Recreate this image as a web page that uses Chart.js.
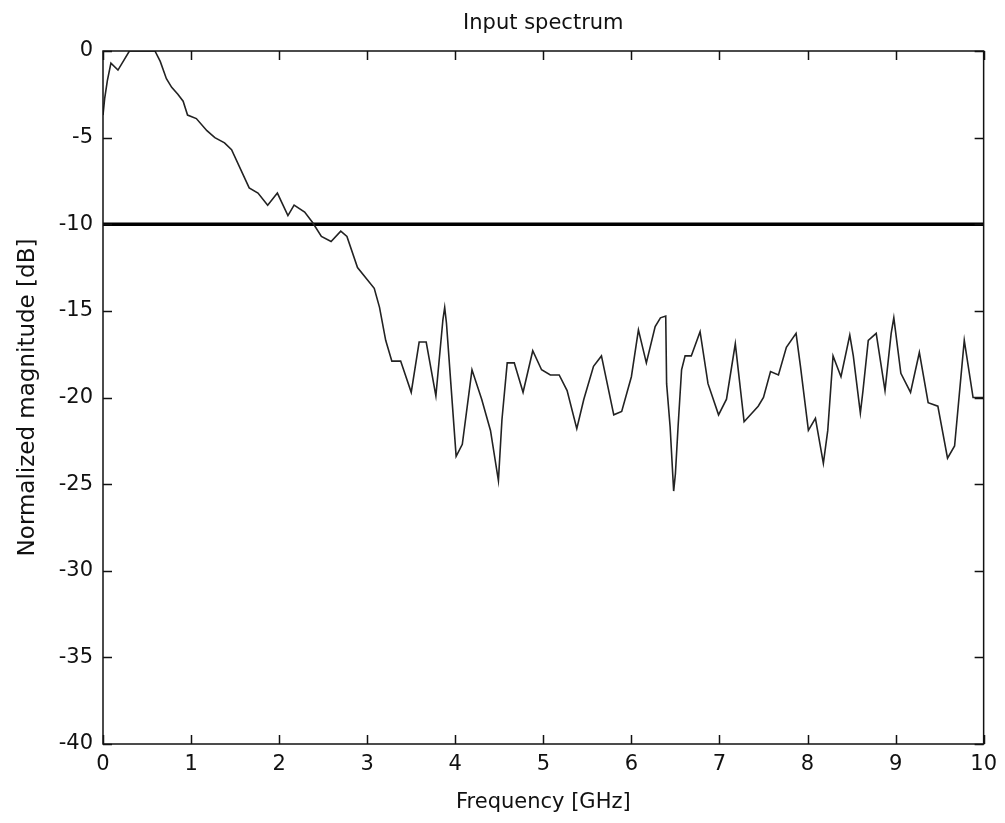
<!DOCTYPE html>
<html>
<head>
<meta charset="utf-8">
<script src="https://cdn.jsdelivr.net/npm/chart.js@4/dist/chart.umd.min.js"></script>
<style>
  html, body { margin: 0; padding: 0; background: #ffffff; }
  #wrap { width: 1005px; height: 823px; position: relative; }
</style>
</head>
<body>
<div id="wrap"><canvas id="c" width="1005" height="823"></canvas></div>
<script>
const chartTitle = 'Input spectrum';
const xAxisTitle = 'Frequency [GHz]';
const yAxisTitle = 'Normalized magnitude [dB]';

const freqGHz = [0.00,0.02,0.05,0.09,0.17,0.30,0.42,0.59,0.65,0.72,0.78,0.85,0.91,0.96,1.06,1.18,1.27,1.38,1.46,1.66,1.76,1.87,1.98,2.10,2.17,2.29,2.38,2.48,2.59,2.70,2.77,2.89,3.08,3.14,3.21,3.28,3.38,3.50,3.59,3.67,3.78,3.86,3.88,3.90,3.95,4.01,4.08,4.19,4.30,4.40,4.49,4.53,4.59,4.67,4.77,4.88,4.98,5.08,5.18,5.27,5.38,5.46,5.57,5.66,5.80,5.89,6.00,6.08,6.17,6.27,6.33,6.39,6.40,6.44,6.48,6.50,6.53,6.57,6.61,6.68,6.78,6.87,6.99,7.08,7.18,7.28,7.44,7.50,7.58,7.67,7.76,7.87,7.92,8.01,8.09,8.18,8.23,8.29,8.38,8.48,8.52,8.60,8.63,8.69,8.78,8.88,8.95,8.98,9.06,9.17,9.27,9.37,9.48,9.59,9.67,9.78,9.88,10.00];
const magnitudeDb = [-3.7,-2.7,-1.7,-0.7,-1.1,0,0,0,-0.6,-1.6,-2.1,-2.5,-2.9,-3.7,-3.9,-4.6,-5.0,-5.3,-5.7,-7.9,-8.2,-8.9,-8.2,-9.5,-8.9,-9.3,-9.9,-10.7,-11.0,-10.4,-10.7,-12.5,-13.7,-14.8,-16.7,-17.9,-17.9,-19.7,-16.8,-16.8,-19.9,-15.5,-14.8,-15.7,-19.2,-23.4,-22.7,-18.4,-20.1,-21.9,-24.8,-21.3,-18.0,-18.0,-19.7,-17.3,-18.4,-18.7,-18.7,-19.6,-21.8,-20.1,-18.2,-17.6,-21.0,-20.8,-18.8,-16.1,-18.0,-15.9,-15.4,-15.3,-19.2,-21.7,-25.4,-24.4,-21.7,-18.4,-17.6,-17.6,-16.2,-19.2,-21.0,-20.1,-16.9,-21.4,-20.5,-20.0,-18.5,-18.7,-17.1,-16.3,-18.2,-21.9,-21.2,-23.8,-21.9,-17.6,-18.8,-16.4,-17.6,-20.9,-19.6,-16.7,-16.3,-19.6,-16.3,-15.4,-18.6,-19.7,-17.4,-20.3,-20.5,-23.5,-22.8,-16.7,-20.0,-20.0];
const thresholdFreq = [0, 10];
const thresholdDb = [-10, -10];
const xTicks = [0,1,2,3,4,5,6,7,8,9,10];
const yTicks = [0,-5,-10,-15,-20,-25,-30,-35,-40];

const FONT = "'DejaVu Sans', 'Liberation Sans', sans-serif";
const FS = 21;

const frameTicks = {
  id: 'frameTicks',
  afterDatasetsDraw(chart) {
    const {ctx, chartArea: a, scales: {x, y}} = chart;
    ctx.save();
    ctx.strokeStyle = '#111';
    ctx.lineWidth = 1.5;
    ctx.strokeRect(a.left, a.top, a.right - a.left, a.bottom - a.top);
    const L = 9;
    ctx.beginPath();
    x.ticks.forEach((t, i) => {
      const px = Math.round(x.getPixelForTick(i)) + 0.5;
      ctx.moveTo(px, a.bottom); ctx.lineTo(px, a.bottom - L);
      ctx.moveTo(px, a.top); ctx.lineTo(px, a.top + L);
    });
    y.ticks.forEach((t, i) => {
      const py = Math.round(y.getPixelForTick(i)) + 0.5;
      ctx.moveTo(a.left, py); ctx.lineTo(a.left + L, py);
      ctx.moveTo(a.right, py); ctx.lineTo(a.right - L, py);
    });
    ctx.stroke();
    ctx.restore();
  }
};

new Chart(document.getElementById('c'), {
  type: 'scatter',
  data: {
    datasets: [
      {
        label: 'spectrum',
        data: freqGHz.map((f, i) => ({x: f, y: magnitudeDb[i]})),
        showLine: true,
        borderColor: '#222',
        borderWidth: 1.6,
        pointRadius: 0,
        tension: 0
      },
      {
        label: 'threshold',
        data: thresholdFreq.map((f, i) => ({x: f, y: thresholdDb[i]})),
        showLine: true,
        borderColor: '#000',
        borderWidth: 3.5,
        pointRadius: 0
      }
    ]
  },
  options: {
    responsive: false,
    animation: false,
    layout: { padding: { left: 0, right: 20, top: 0, bottom: 0 } },
    plugins: {
      legend: { display: false },
      tooltip: { enabled: false },
      title: {
        display: true,
        fullSize: false,
        text: chartTitle,
        color: '#111',
        font: { family: FONT, size: FS, weight: 'normal', lineHeight: 1.2 },
        padding: { top: 11, bottom: 14.8 }
      }
    },
    scales: {
      x: {
        type: 'linear',
        min: 0, max: 10,
        afterBuildTicks: s => { s.ticks = xTicks.map(v => ({value: v})); },
        afterFit: s => { s.height = 79; },
        grid: { display: false, drawTicks: false },
        border: { display: false },
        ticks: { color: '#111', padding: 8, font: { family: FONT, size: FS } },
        title: { display: true, text: xAxisTitle, color: '#111', font: { family: FONT, size: FS }, padding: { top: 0, bottom: 8 } }
      },
      y: {
        type: 'linear',
        min: -40, max: 0,
        afterBuildTicks: s => { s.ticks = yTicks.map(v => ({value: v})); },
        afterFit: s => { s.width = 103; },
        grid: { display: false, drawTicks: false },
        border: { display: false },
        ticks: { color: '#111', padding: 10, font: { family: FONT, size: FS } },
        title: { display: true, text: yAxisTitle, color: '#111', font: { family: FONT, size: 23 }, padding: { top: 14, bottom: 0 } }
      }
    }
  },
  plugins: [frameTicks]
});
</script>
</body>
</html>
